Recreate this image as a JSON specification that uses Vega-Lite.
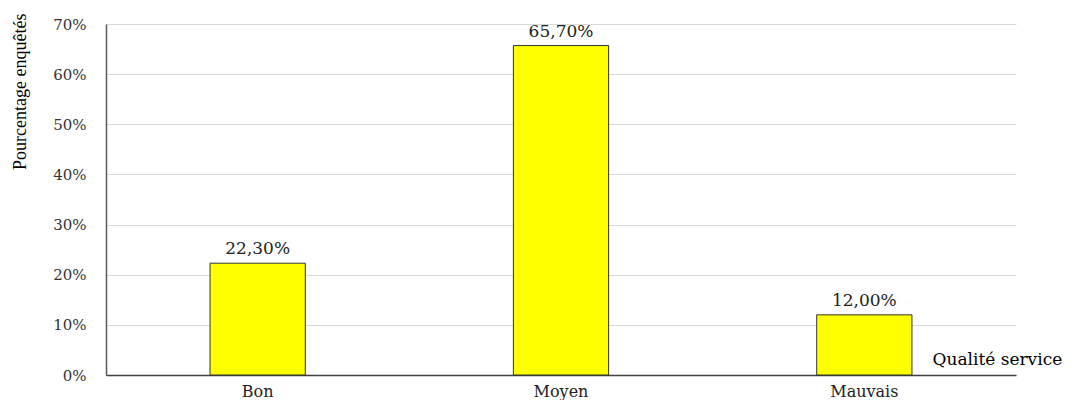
{
  "$schema": "https://vega.github.io/schema/vega-lite/v6.json",
  "width": 910,
  "height": 351,
  "autosize": {"type": "none"},
  "padding": {"left": 106, "top": 24, "right": 76, "bottom": 25},
  "background": "white",
  "config": {
    "view": {"stroke": null},
    "font": "DejaVu Serif",
    "locale": {"number": {"decimal": ",", "thousands": " ", "grouping": [3], "currency": ["", " €"]}}
  },
  "data": {
    "values": [
      {"qualite": "Bon", "pct": 0.223},
      {"qualite": "Moyen", "pct": 0.657},
      {"qualite": "Mauvais", "pct": 0.12}
    ]
  },
  "encoding": {
    "x": {
      "field": "qualite",
      "type": "nominal",
      "sort": null,
      "scale": {"paddingInner": 0.686, "paddingOuter": 0.343},
      "axis": {
        "title": "Qualité service",
        "titleFont": "DejaVu Serif",
        "titleFontSize": 17,
        "titleFontWeight": "normal",
        "titleColor": "#000000",
        "titleAnchor": "start",
        "titleAlign": "left",
        "titleBaseline": "alphabetic",
        "titleX": 826,
        "titleY": -11,
        "labelAngle": 0,
        "labelFont": "DejaVu Serif",
        "labelFontSize": 16,
        "labelColor": "#222222",
        "labelPadding": 8,
        "ticks": false,
        "domainColor": "#404040",
        "domainWidth": 1.5
      }
    },
    "y": {
      "field": "pct",
      "type": "quantitative",
      "scale": {"domain": [0, 0.7]},
      "axis": {
        "title": "Pourcentage enquêtés",
        "titleFont": "Liberation Serif",
        "titleFontSize": 18,
        "titleFontWeight": "normal",
        "titleColor": "#000000",
        "titleAnchor": "end",
        "titleAlign": "right",
        "titleX": -77,
        "titleY": -11,
        "format": ".0%",
        "values": [0, 0.1, 0.2, 0.3, 0.4, 0.5, 0.6, 0.7],
        "labelFont": "DejaVu Serif",
        "labelFontSize": 15,
        "labelColor": "#333333",
        "labelPadding": 20,
        "ticks": false,
        "domainColor": "#595959",
        "domainWidth": 1.5,
        "grid": true,
        "gridColor": "#d9d9d9",
        "gridWidth": 1
      }
    }
  },
  "layer": [
    {
      "mark": {"type": "bar", "color": "#ffff00", "stroke": "#333333", "strokeWidth": 1}
    },
    {
      "mark": {"type": "text", "baseline": "alphabetic", "dy": -9, "fontSize": 17, "color": "#222222", "font": "DejaVu Serif"},
      "encoding": {
        "text": {"field": "pct", "type": "quantitative", "format": ".2%"}
      }
    }
  ]
}
